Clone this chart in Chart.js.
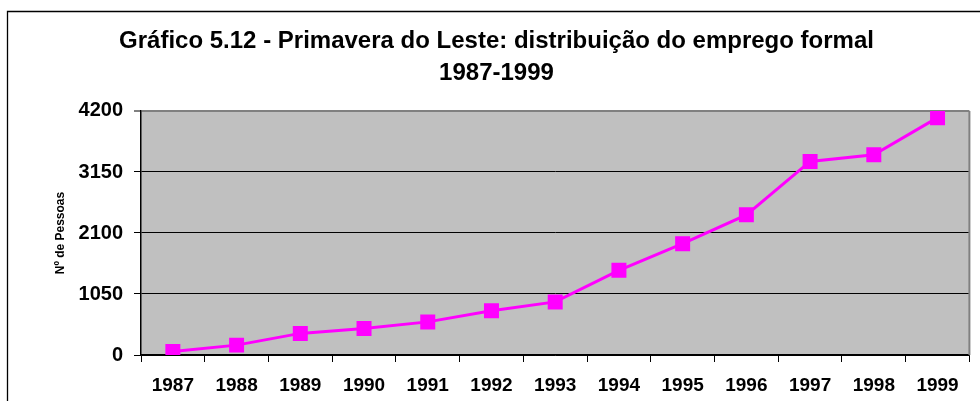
<!DOCTYPE html>
<html>
<head>
<meta charset="utf-8">
<script src="https://cdn.jsdelivr.net/npm/chart.js@4/dist/chart.umd.min.js"></script>
<style>
  html, body { margin: 0; padding: 0; background: #fff; }
  #wrap { width: 980px; height: 401px; }
</style>
</head>
<body>
<div id="wrap"><canvas id="grafico"></canvas></div>
<script>
const anos = ["1987", "1988", "1989", "1990", "1991", "1992", "1993", "1994", "1995", "1996", "1997", "1998", "1999"];
const pessoas = [60, 170, 372, 457, 570, 760, 914, 1457, 1915, 2412, 3331, 3446, 4085];
const yMax = 4200;
const yStep = 1050;
const tituloLinhas = ["Gráfico 5.12 - Primavera do Leste: distribuição do emprego formal", "1987-1999"];

const fonte = "'Liberation Sans', Arial, sans-serif";

// moldura externa e fundo cinza da area do grafico
const moldura = {
  id: "moldura",
  beforeDraw(chart) {
    const { ctx, chartArea: a } = chart;
    ctx.save();
    ctx.fillStyle = "#C0C0C0";
    ctx.fillRect(a.left, a.top, a.right - a.left, a.bottom - a.top);
    ctx.strokeStyle = "#000";
    ctx.lineWidth = 1.3;
    ctx.beginPath();
    ctx.moveTo(7.5, chart.height + 2);
    ctx.lineTo(7.5, 11.5);
    ctx.lineTo(chart.width + 2, 11.5);
    ctx.stroke();
    ctx.restore();
  },
  beforeDatasetsDraw(chart) {
    const { ctx, chartArea: a } = chart;
    ctx.save();
    ctx.strokeStyle = "#808080";
    ctx.lineWidth = 2;
    ctx.beginPath();
    ctx.moveTo(a.right, a.top);
    ctx.lineTo(a.right, a.bottom);
    ctx.stroke();
    ctx.restore();
  }
};

new Chart(document.getElementById("grafico"), {
  type: "line",
  data: {
    labels: anos,
    datasets: [
      {
        label: "Nº de Pessoas",
        data: pessoas,
        borderColor: "#FF00FF",
        backgroundColor: "#FF00FF",
        borderWidth: 3,
        pointStyle: "rect",
        pointRadius: 10.6,
        pointBorderWidth: 0,
        tension: 0,
      },
    ]
  },
  options: {
    responsive: true,
    maintainAspectRatio: false,
    animation: false,
    events: [],
    layout: {
      padding: { left: 20, right: 7, top: 0, bottom: 0 },
    },
    plugins: {
      legend: { display: false },
      tooltip: { enabled: false },
      title: {
        display: true,
        text: tituloLinhas,
        color: "#000",
        font: { family: fonte, size: 24, weight: "bold", lineHeight: 1.333 },
        padding: { top: 25, bottom: 22 },
      },
    },
    scales: {
      x: {
        offset: true,
        grid: {
          offset: true,
          drawOnChartArea: false,
          drawTicks: true,
          tickLength: 7,
          color: "#000",
        },
        border: { color: "#000", width: 1.5 },
        ticks: {
          color: "#000",
          padding: 12,
          maxRotation: 0,
          autoSkip: false,
          font: { family: fonte, size: 19, weight: "bold" },
        },
        afterFit(scale) { scale.height = 46; },
      },
      y: {
        min: 0,
        max: yMax,
        grid: {
          tickLength: 7,
          color: (c) => (c.tick && c.tick.value === yMax ? "#808080" : "#000"),
          lineWidth: (c) => (c.tick && c.tick.value === yMax ? 2 : 1),
        },
        border: { color: "#000", width: 1.5 },
        ticks: {
          stepSize: yStep,
          color: "#000",
          padding: 11,
          font: { family: fonte, size: 20, weight: "bold" },
          callback: (v) => String(v),
        },
        title: {
          display: true,
          text: "Nº de Pessoas",
          color: "#000",
          font: { family: fonte, size: 12, weight: "bold" },
          padding: { top: 33, bottom: 0 },
        },
        afterFit(scale) { scale.width = 121; },
      },
    },
  },
  plugins: [moldura],
});
</script>
</body>
</html>
